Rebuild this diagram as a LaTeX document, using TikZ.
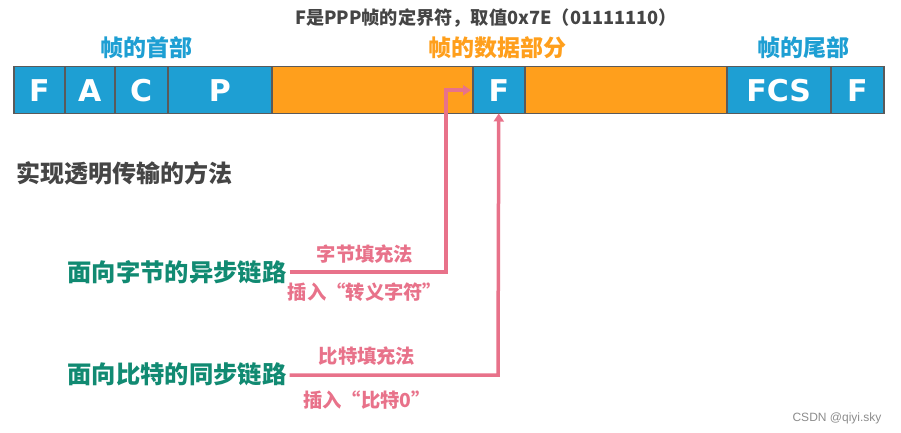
\documentclass[tikz,border=0pt]{standalone}
\usepackage{fontspec}
\setmainfont{Noto Sans CJK SC}
\newfontfamily\latinbold{DejaVu Sans}
\newfontfamily\wmfont{Liberation Sans}
\usetikzlibrary{arrows.meta}
\definecolor{fblue}{HTML}{1E9FD3}
\definecolor{forange}{HTML}{FF9F1C}
\definecolor{fpink}{HTML}{E8728A}
\definecolor{fgreen}{HTML}{118A72}
\definecolor{fgray}{HTML}{454545}
\definecolor{fborder}{HTML}{5A5A5A}
\tikzset{
  cellbox/.style={draw=fborder, line width=1.5pt, anchor=north west, minimum height=47pt, inner sep=0pt, text=white, font=\latinbold\bfseries\fontsize{30}{32}\selectfont},
  bluecell/.style={cellbox, fill=fblue},
  orangecell/.style={cellbox, fill=forange},
  partlabel/.style={font=\bfseries\fontsize{23}{25}\selectfont, inner sep=0pt},
  linklabel/.style={font=\bfseries\fontsize{24.3}{26}\selectfont, text=fgreen, inner sep=0pt},
  pinklabel/.style={font=\bfseries\fontsize{19.3}{21}\selectfont, text=fpink, inner sep=0pt},
  pinkline/.style={draw=fpink, line width=3.5pt},
}
\begin{document}
\begin{tikzpicture}[x=1pt,y=-1pt]
\useasboundingbox (0,0) rectangle (901,433);
% top caption
\node[font=\bfseries\fontsize{18.2}{20}\selectfont, text=fgray, inner sep=0pt] (cap) at (486,18) {F是PPP帧的定界符，取值0x7E（01111110）};
% part labels
\node[partlabel, text=fblue] (head) at (146,48) {帧的首部};
\node[partlabel, text=forange] (data) at (497,48) {帧的数据部分};
\node[partlabel, text=fblue] (tail) at (803,48) {帧的尾部};
% frame cells
\node[bluecell, minimum width=51pt] (c1) at (13,66) {F};
\node[bluecell, minimum width=50pt] (c2) at (64,66) {A};
\node[bluecell, minimum width=53pt] (c3) at (114,66) {C};
\node[bluecell, minimum width=104pt] (c4) at (167,66) {P};
\node[orangecell, minimum width=201pt] (d1) at (271,66) {};
\node[bluecell, minimum width=52pt] (c5) at (472,66) {F};
\node[orangecell, minimum width=202pt] (d2) at (524,66) {};
\node[bluecell, minimum width=104pt] (c6) at (726,66) {FCS};
\node[bluecell, minimum width=53pt] (c7) at (830,66) {F};
% method title
\node[font=\bfseries\fontsize{24}{26}\selectfont, text=fgray, anchor=west, inner sep=0pt] (title) at (16,173) {实现透明传输的方法};
% links
\node[linklabel] (s1) at (177,272) {面向字节的异步链路};
\node[linklabel] (s2) at (177,374) {面向比特的同步链路};
% corners
\coordinate (k1) at (446,272);
\coordinate (k2) at (498,375);
\draw[pinkline, -{Triangle[width=10pt,length=8pt]}] ([xshift=3pt]s1.east) -- (k1) -- (k1 |- c5.west) -- ([xshift=-1pt]c5.west);
\draw[pinkline, -{Triangle[width=10pt,length=8pt]}] ([xshift=3pt]s2.east |- k2) -- (k2) -- ([yshift=1pt]c5.south);
% method labels
\node[pinklabel] (m1a) at (365,254) {字节填充法};
\node[pinklabel] (m1b) at (365,292) {插入“转义字符”};
\node[pinklabel] (m2a) at (367,356) {比特填充法};
\node[pinklabel] (m2b) at (367,400) {插入“比特0”};
% watermark
\node[font=\wmfont\fontsize{12}{14}\selectfont, text=black!45, inner sep=0pt] (wm) at (837,418) {CSDN @qiyi.sky};
\end{tikzpicture}
\end{document}
